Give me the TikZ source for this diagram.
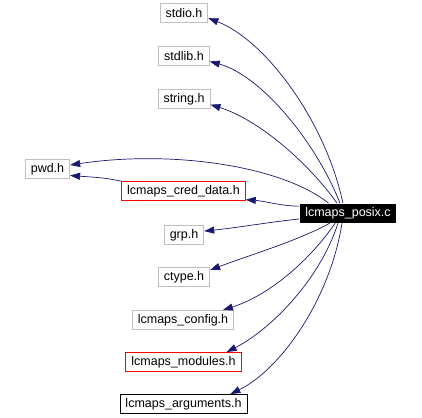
\documentclass[tikz,border=0pt]{standalone}
\usepackage{fontspec}
\setmainfont{Liberation Sans}
\usepackage{tikz}
\usetikzlibrary{arrows.meta}

\begin{document}
\begin{tikzpicture}[
        x=1pt, y=-1pt,
        every node/.style={font=\fontsize{12.5}{14}\selectfont, inner xsep=5.5pt,
            inner ysep=0pt, minimum height=19pt, line width=0.9pt},
        header/.style={draw=black!25},
        doc header/.style={draw=red},
        plain header/.style={draw=black},
        source/.style={fill=black, text=white},
        edge/.style={draw=midnightblue, line width=0.7pt,
            -{Triangle[length=10pt,width=7pt]}},
    ]
    \definecolor{midnightblue}{RGB}{25,25,112}
    \useasboundingbox (0,0) rectangle (422,417);

    % files
    \node[source] at (348,213) (posix) {lcmaps\_posix.c};
    \node[header] at (184,13) (stdio) {stdio.h};
    \node[header] at (184,56) (stdlib) {stdlib.h};
    \node[header] at (184,99) (string) {string.h};
    \node[header] at (47.5,169) (pwd) {pwd.h};
    \node[doc header] at (183.5,191) (creddata) {lcmaps\_cred\_data.h};
    \node[header] at (184,235) (grp) {grp.h};
    \node[header] at (184,277) (ctype) {ctype.h};
    \node[header] at (183,320) (config) {lcmaps\_config.h};
    \node[doc header] at (183.5,362) (modules) {lcmaps\_modules.h};
    \node[plain header] at (183.5,404) (arguments) {lcmaps\_arguments.h};

    % includes
    \draw[edge] (posix.117) .. controls (325,120) and (265,40) .. (stdio.-12);
    \draw[edge] (posix.129) .. controls (315,140) and (260,75) .. (stdlib.-12);
    \draw[edge] (posix.138) .. controls (310,165) and (260,120) .. (string.-12);
    \draw[edge] (posix.153) .. controls (280,165) and (170,150) .. (pwd.10);
    \draw[edge] (creddata.171) .. controls (105,178) .. (pwd.-16);
    \draw[edge] (posix.172) .. controls (280,206) and (265,201) .. (creddata.-8);
    \draw[edge] (posix.187) .. controls (270,222) and (235,228) .. (grp.11);
    \draw[edge] (posix.209) .. controls (300,240) and (250,255) .. (ctype.15);
    \draw[edge] (posix.218) .. controls (310,260) and (270,295) .. (config.14);
    \draw[edge] (posix.225) .. controls (320,280) and (270,330) .. (modules.13);
    \draw[edge] (posix.239) .. controls (330,300) and (280,370) .. (arguments.12);
\end{tikzpicture}
\end{document}
